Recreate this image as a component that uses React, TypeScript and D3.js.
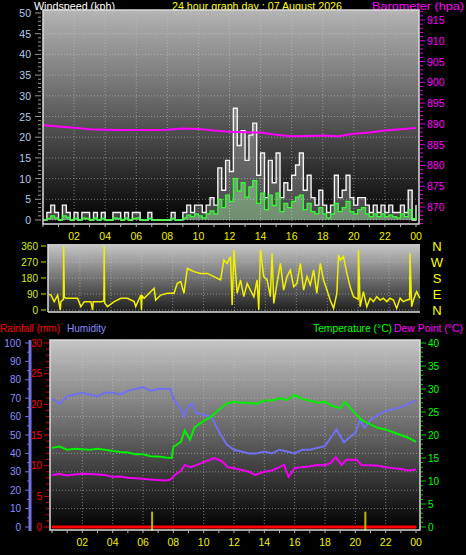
import React from "react";
import * as d3 from "d3";

// ---------- DATA ----------
const HOUR_LABELS = ["02", "04", "06", "08", "10", "12", "14", "16", "18", "20", "22", "00"];
const LABEL_HOURS = [2, 4, 6, 8, 10, 12, 14, 16, 18, 20, 22, 24];

// wind (kph), every 15 minutes from 00:00 to 24:00
const windTimes = d3.range(0, 24.001, 0.25);
const gustValues = [
  0, 1.8, 3.6, 1.8, 0, 3.6, 1.8, 0, 1.8, 0, 1.8, 1.8, 0, 1.8, 0, 1.8,
  0, 0, 1.8, 1.8, 0, 1.8, 0, 1.8, 1.8, 0, 0, 1.8, 0, 0, 0, 0,
  0, 1.8, 0, 0, 1.8, 3.6, 1.8, 3.6, 3.6, 1.8, 3.6, 5.4, 3.6, 12.6, 7.2, 14.4,
  11.7, 27, 18, 21.6, 14.4, 20.5, 23.4, 10.8, 16.2, 5.4, 14.4, 9, 16.2, 5.4, 9, 7.2,
  10.8, 13.3, 16.2, 7.2, 10.8, 5.4, 3.6, 7.2, 3.6, 1.8, 3.6, 10.8, 5.4, 7.2, 10.8, 5.4,
  3.6, 5.4, 5.4, 3.6, 1.8, 3.6, 1.8, 3.6, 1.8, 3.6, 1.8, 1.8, 3.6, 1.8, 7.2, 0, 3.6,
];
const avgValues = [
  0, 0.4, 1.0, 0.5, 0, 1.0, 0.6, 0, 0.4, 0, 0.5, 0.4, 0, 0.5, 0, 0.4,
  0, 0, 0.5, 0.4, 0, 0.5, 0, 0.4, 0.5, 0, 0, 0.4, 0, 0, 0, 0,
  0, 0.4, 0, 0, 0.5, 1.2, 0.8, 1.5, 1.0, 0.5, 1.5, 2.2, 1.5, 5, 3, 6,
  4.5, 10, 7, 9, 5.5, 8, 9.5, 4, 6.5, 2.5, 6, 3.5, 6.5, 2, 4, 3,
  4.5, 5.5, 6, 2.5, 4, 2, 1.5, 3, 1.5, 0.5, 1.5, 4, 2, 3, 4.5, 2,
  1.5, 2.5, 3, 1.5, 0.8, 1.5, 0.8, 1.5, 0.8, 1.2, 0.8, 0.5, 1.5, 0.8, 2.5, 0.3, 1.2,
];

// barometer (hPa), hourly
const baroTimes = d3.range(0, 24.001, 1);
const baroValues = [
  889.7, 889.4, 889.1, 888.7, 888.6, 888.5, 888.5, 888.5, 888.6, 888.9, 888.8, 888.4, 888.1,
  888.0, 887.9, 887.4, 887.0, 887.1, 887.2, 887.0, 887.6, 887.9, 888.4, 888.7, 889.0,
];

// wind direction (degrees)
const dirTimes = [
  0, 0.13, 0.34, 0.56, 0.73, 0.77, 0.93, 0.95, 0.99, 1.10, 1.85, 2.06, 2.28, 2.71, 2.82, 2.86, 3.35, 3.55, 3.57, 3.60,
  3.78, 4.22, 4.65, 5.08, 5.51, 5.61, 5.94, 5.98, 6.02, 6.15, 6.80, 6.90, 7.23, 7.66, 8.09, 8.30, 8.52, 8.73, 8.95, 9.16,
  9.38, 9.81, 10.24, 10.67, 11.10, 11.31, 11.53, 11.74, 11.85, 11.96, 12.17, 12.39, 12.60, 12.82, 13.03, 13.25, 13.46, 13.57, 13.68, 13.89,
  14.11, 14.32, 14.43, 14.54, 14.75, 14.97, 15.18, 15.40, 15.61, 15.83, 16.04, 16.26, 16.47, 16.69, 16.90, 17.12, 17.33, 17.55, 17.76, 17.98,
  18.19, 18.41, 18.62, 18.73, 18.84, 19.05, 19.27, 19.48, 19.70, 20.00, 20.02, 20.13, 20.34, 20.56, 20.77, 20.99, 21.20, 21.42, 21.63, 21.85,
  22.06, 22.28, 22.49, 22.71, 22.92, 23.14, 23.33, 23.35, 23.46, 23.57, 23.78, 24.0,
];
const dirValues = [
  88, 84, 47, 84, 0, 47, 60, 360, 70, 66, 66, 19, 47, 47, 0, 47, 47, 50, 360, 40,
  19, 47, 66, 66, 47, 19, 84, 0, 80, 66, 122, 56, 84, 94, 94, 150, 160, 94, 234, 225,
  216, 206, 206, 188, 169, 281, 262, 300, 28, 338, 94, 169, 75, 150, 112, 75, 169, 0, 338, 188,
  169, 75, 319, 37, 150, 262, 112, 188, 225, 131, 150, 262, 112, 188, 141, 225, 94, 262, 169, 112,
  56, 9, 94, 309, 281, 300, 206, 131, 75, 60, 338, 19, 103, 19, 66, 47, 75, 56, 66, 47,
  66, 56, 9, 66, 47, 56, 60, 319, 19, 56, 103, 66,
];

// humidity (%)
const humTimes = [
  0, 0.5, 1, 1.5, 2, 2.5, 3, 3.5, 4, 4.5, 5, 5.5, 6, 6.5, 7, 7.5, 7.8, 8, 8.5, 8.75, 9, 9.25, 9.5, 10, 10.5,
  11, 11.5, 12, 12.5, 13, 13.5, 14, 14.5, 15, 15.5, 16, 16.5, 17, 17.5, 18, 18.5, 18.75, 19.25, 19.5, 20, 20.3,
  20.6, 21, 21.5, 22, 22.5, 23, 23.5, 24,
];
const humValues = [
  70, 67, 71, 72, 73, 72, 71, 73, 73, 72, 74, 75, 76, 74, 75, 75, 75, 70, 64, 60, 66, 67, 62, 61, 60,
  52, 45, 42, 41, 40, 40, 41, 40, 42, 41, 40, 42, 42, 43, 44, 50, 53, 46, 48, 51, 58,
  54, 58, 61, 63, 64, 65, 67, 69,
];

// temperature (°C)
const tempTimes = [
  0, 0.5, 1, 1.5, 2, 2.5, 3, 3.5, 4, 4.5, 5, 5.5, 6, 6.5, 7, 7.5, 7.9, 8.0, 8.5, 8.75, 9.1, 9.4, 10, 10.5, 11,
  11.5, 12, 12.5, 13, 13.5, 14, 14.5, 15, 15.5, 16, 16.5, 17, 17.5, 18, 18.5, 19, 19.3, 19.8, 20.4, 21, 21.5,
  22, 22.5, 23, 23.5, 24,
];
const tempValues = [
  17.2, 17.5, 16.8, 17.0, 16.9, 16.8, 17.0, 16.8, 16.5, 16.3, 16.2, 15.8, 15.8, 15.4, 15.3, 15.1, 15.0, 17.4, 18.5, 21, 19, 21.7, 23, 24, 25.5,
  26.8, 27.2, 27.0, 27.0, 26.8, 27.5, 27.5, 28, 27.6, 28.7, 27.8, 27.5, 27, 27.2, 26.3, 25.8, 27.2, 25.4, 23.3, 22.3, 21.5,
  21.2, 20.6, 20.0, 19.4, 18.5,
];

// dew point (°C)
const dewTimes = [
  0, 0.5, 1, 1.5, 2, 2.5, 3, 3.5, 4, 4.5, 5, 5.5, 6, 6.5, 7, 7.5, 7.8, 8.1, 8.5, 8.75, 9.1, 9.4, 10, 10.7, 11.2,
  11.6, 12, 12.5, 13, 13.4, 14, 14.5, 15, 15.3, 15.6, 16, 16.5, 17, 17.5, 18, 18.4, 18.7, 19.1, 19.4, 20.1, 20.4,
  21, 21.5, 22, 22.5, 23, 23.5, 24,
];
const dewValues = [
  11.3, 11.5, 11.2, 11.4, 11.6, 11.5, 11.4, 11.3, 10.9, 11.0, 10.7, 10.6, 10.5, 10.3, 10.2, 10.1, 10.3, 11.3, 12.2, 13.5, 13, 13.3, 14.1, 15, 14.3,
  13, 12.8, 12.4, 12, 11.3, 12, 12.3, 13, 13.5, 10.9, 12.8, 13, 13.2, 13.5, 13.4, 14, 15.2, 13.5, 14.6, 14.6, 13.5,
  13.4, 13.3, 13, 12.8, 12.6, 12.3, 12.5,
];

// rainfall (mm)
const rainTimes = [0, 24];
const rainValues = [0, 0];
const rainMarkTimes = [6.6, 20.66];
const rainMarkValues = [2.5, 2.5];

const WIND_TICKS = [0, 5, 10, 15, 20, 25, 30, 35, 40, 45, 50];
const BARO_TICKS = [870, 875, 880, 885, 890, 895, 900, 905, 910, 915];
const DIR_TICKS = [0, 90, 180, 270, 360];
const COMPASS = ["N", "W", "S", "E", "N"];
const COMPASS_DEG = [360, 270, 180, 90, 0];
const HUM_TICKS = [0, 10, 20, 30, 40, 50, 60, 70, 80, 90, 100];
const RAIN_TICKS = [0, 5, 10, 15, 20, 25, 30];
const TEMP_TICKS = [0, 5, 10, 15, 20, 25, 30, 35, 40];

const FONT = "'Liberation Sans', Arial, sans-serif";

function Grad({ id, top, bottom }: { id: string; top: string; bottom: string }) {
  return (
    <linearGradient id={id} x1="0" y1="0" x2="0" y2="1">
      <stop offset="0" stopColor={top} />
      <stop offset="1" stopColor={bottom} />
    </linearGradient>
  );
}

function Fit({ x, y, w, fill, size, children }: { x: number; y: number; w: number; fill: string; size: number; children: string }) {
  return (
    <text x={x} y={y} fill={fill} fontSize={size} textLength={w} lengthAdjust="spacingAndGlyphs">
      {children}
    </text>
  );
}

export default function App() {
  // ---- scales ----
  const xTop = d3.scaleLinear().domain([0, 24]).range([43, 416]);
  const yWind = d3.scaleLinear().domain([0, 50]).range([220, 13]);
  const yBaro = d3.scaleLinear().domain([870, 915]).range([207, 20]);

  const xDir = d3.scaleLinear().domain([0, 24]).range([49, 420]);
  const yDir = d3.scaleLinear().domain([0, 360]).range([310, 246]);

  const xBot = d3.scaleLinear().domain([0, 24]).range([52, 416]);
  const yHum = d3.scaleLinear().domain([0, 100]).range([527, 343]);
  const yRain = d3.scaleLinear().domain([0, 30]).range([527, 343]);
  const yTemp = d3.scaleLinear().domain([0, 40]).range([527, 343]);

  const windIdx = windTimes.map((_, i) => i);
  const gustArea = d3.area<number>().x((i) => xTop(windTimes[i])).y0(yWind(0)).y1((i) => yWind(gustValues[i])).curve(d3.curveStepAfter);
  const gustLine = d3.line<number>().x((i) => xTop(windTimes[i])).y((i) => yWind(gustValues[i])).curve(d3.curveStepAfter);
  const avgArea = d3.area<number>().x((i) => xTop(windTimes[i])).y0(yWind(0)).y1((i) => yWind(avgValues[i])).curve(d3.curveStepAfter);
  const avgLine = d3.line<number>().x((i) => xTop(windTimes[i])).y((i) => yWind(avgValues[i])).curve(d3.curveStepAfter);
  const baroLine = d3.line<number>().x((i) => xTop(baroTimes[i])).y((i) => yBaro(baroValues[i]));

  const dirLine = d3.line<number>().x((i) => xDir(dirTimes[i])).y((i) => yDir(dirValues[i]));
  const humLine = d3.line<number>().x((i) => xBot(humTimes[i])).y((i) => yHum(humValues[i]));
  const tempLine = d3.line<number>().x((i) => xBot(tempTimes[i])).y((i) => yTemp(tempValues[i]));
  const dewLine = d3.line<number>().x((i) => xBot(dewTimes[i])).y((i) => yTemp(dewValues[i]));
  const rainLine = d3.line<number>().x((i) => xBot(rainTimes[i])).y((i) => yRain(rainValues[i]));

  const idx = (a: number[]) => a.map((_, i) => i);

  const gridStyle = { stroke: "#c8c8c8", strokeOpacity: 0.55, strokeWidth: 1, strokeDasharray: "1,2" };

  const top = { x0: 43, x1: 419, y0: 10, y1: 224 };
  const dir = { x0: 48, x1: 420, y0: 244, y1: 312 };
  const bot = { x0: 50, x1: 420, y0: 340, y1: 530 };

  const minorWind = d3.range(0, 51, 1);
  const minorBaro = d3.range(866, 918, 1);
  const minorRain = d3.range(0, 31, 1);
  const minorTemp = d3.range(0, 41, 1);
  const minorHum = d3.range(0, 101, 5);
  const hourTicks = d3.range(0, 25, 1);

  return (
    <svg width={466} height={555} style={{ position: "absolute", left: 0, top: 0, background: "#000" }} fontFamily={FONT}>
      <defs>
        <Grad id="gTop" top="#b4b4b4" bottom="#000000" />
        <Grad id="gDir" top="#c8c8c8" bottom="#1c1c1c" />
        <Grad id="gBot" top="#c4c4c4" bottom="#000000" />
      </defs>
      <rect x={0} y={0} width={466} height={555} fill="#000" />

      {/* ===== TOP PANEL ===== */}
      <Fit x={34} y={10} w={81} size={11.5} fill="#ffffff">Windspeed (kph)</Fit>
      <Fit x={172} y={10} w={170} size={11.5} fill="#ffff00">24 hour graph day : 07 August 2026</Fit>
      <Fit x={372} y={10} w={92} size={11.5} fill="#ff00ff">Barometer (hpa)</Fit>

      <rect x={top.x0} y={top.y0} width={top.x1 - top.x0} height={top.y1 - top.y0} fill="url(#gTop)" />
      {WIND_TICKS.map((v) => (
        <line key={"wg" + v} x1={top.x0} x2={top.x1} y1={yWind(v)} y2={yWind(v)} {...gridStyle} />
      ))}
      {LABEL_HOURS.slice(0, 11).map((h) => (
        <line key={"vg" + h} x1={xTop(h)} x2={xTop(h)} y1={top.y0} y2={top.y1} {...gridStyle} />
      ))}
      <path d={gustArea(windIdx) || ""} fill="#ffffff" fillOpacity={0.25} />
      <path d={gustLine(windIdx) || ""} fill="none" stroke="#f4f4f4" strokeWidth={1.4} />
      <path d={avgArea(windIdx) || ""} fill="#b8ffb8" fillOpacity={0.4} />
      <path d={avgLine(windIdx) || ""} fill="none" stroke="#30ff30" strokeWidth={1.3} />
      <path d={baroLine(idx(baroTimes)) || ""} fill="none" stroke="#ff00ff" strokeWidth={2} />
      <rect x={top.x0} y={top.y0} width={top.x1 - top.x0} height={top.y1 - top.y0} fill="none" stroke="#dcdcdc" strokeWidth={1.5} />

      {/* left wind axis */}
      {minorWind.map((v) => (
        <line key={"wm" + v} x1={v % 5 === 0 ? 35 : 38} x2={41} y1={yWind(v)} y2={yWind(v)} stroke="#9a9a9a" strokeWidth={1} />
      ))}
      {WIND_TICKS.map((v) => (
        <text key={"wl" + v} x={31} y={yWind(v) + 4} fill="#b0cdf0" fontSize={10.5} textAnchor="end">{v}</text>
      ))}
      {/* right baro axis */}
      {minorBaro.map((v) => (
        <line key={"bm" + v} x1={420} x2={v % 5 === 0 ? 425 : 423} y1={yBaro(v)} y2={yBaro(v)} stroke="#e000e0" strokeWidth={1} />
      ))}
      {BARO_TICKS.map((v) => (
        <text key={"bl" + v} x={427} y={yBaro(v) + 4} fill="#ff00ff" fontSize={10.5}>{v}</text>
      ))}
      {/* x axis top */}
      {hourTicks.map((h) => (
        <line key={"xt" + h} x1={xTop(h)} x2={xTop(h)} y1={top.y1} y2={top.y1 + 3} stroke="#bbbbbb" />
      ))}
      {LABEL_HOURS.map((h, i) => (
        <text key={"xl" + h} x={xTop(h)} y={240} fill="#f0f000" fontSize={10.5} textAnchor="middle">{HOUR_LABELS[i]}</text>
      ))}

      {/* ===== WIND DIRECTION PANEL ===== */}
      <rect x={dir.x0} y={dir.y0} width={dir.x1 - dir.x0} height={dir.y1 - dir.y0} fill="url(#gDir)" />
      {DIR_TICKS.map((v) => (
        <line key={"dg" + v} x1={dir.x0} x2={dir.x1} y1={yDir(v)} y2={yDir(v)} {...gridStyle} />
      ))}
      {LABEL_HOURS.slice(0, 11).map((h) => (
        <line key={"dvg" + h} x1={xDir(h)} x2={xDir(h)} y1={dir.y0} y2={dir.y1} {...gridStyle} />
      ))}
      <path d={dirLine(idx(dirTimes)) || ""} fill="none" stroke="#f0f000" strokeWidth={1.5} />
      <line x1={dir.x0} x2={dir.x1} y1={dir.y1} y2={dir.y1} stroke="#dcdcdc" strokeWidth={1.5} />
      <line x1={dir.x0} x2={dir.x0} y1={dir.y0} y2={dir.y1} stroke="#dcdcdc" strokeWidth={1.5} />
      {DIR_TICKS.map((v) => (
        <g key={"dl" + v}>
          <line x1={41} x2={46} y1={yDir(v)} y2={yDir(v)} stroke="#d0e000" />
          <text x={38} y={yDir(v) + 3.5} fill="#d8f000" fontSize={10} textAnchor="end">{v}</text>
        </g>
      ))}
      {COMPASS.map((c, i) => (
        <text key={"c" + i} x={437} y={yDir(COMPASS_DEG[i]) + 5} fill="#ffff00" fontSize={13} textAnchor="middle">{c}</text>
      ))}

      {/* ===== BOTTOM PANEL ===== */}
      <Fit x={0} y={332} w={60} size={11} fill="#ff0000">Rainfall (mm)</Fit>
      <Fit x={67} y={332} w={39} size={11} fill="#8c8cff">Humidity</Fit>
      <Fit x={313} y={332} w={79} size={11} fill="#00ff00">Temperature (°C)</Fit>
      <Fit x={394} y={332} w={69} size={11} fill="#ff00ff">Dew Point (°C)</Fit>

      <rect x={bot.x0} y={bot.y0} width={bot.x1 - bot.x0} height={bot.y1 - bot.y0} fill="url(#gBot)" />
      {HUM_TICKS.map((v) => (
        <line key={"hg" + v} x1={bot.x0} x2={bot.x1} y1={yHum(v)} y2={yHum(v)} {...gridStyle} />
      ))}
      {LABEL_HOURS.slice(0, 11).map((h) => (
        <line key={"bvg" + h} x1={xBot(h)} x2={xBot(h)} y1={bot.y0} y2={bot.y1} {...gridStyle} />
      ))}
      <path d={humLine(idx(humTimes)) || ""} fill="none" stroke="#7070f0" strokeWidth={2} />
      <path d={tempLine(idx(tempTimes)) || ""} fill="none" stroke="#00f000" strokeWidth={2} />
      <path d={dewLine(idx(dewTimes)) || ""} fill="none" stroke="#f000f0" strokeWidth={2} />
      <path d={rainLine(idx(rainTimes)) || ""} fill="none" stroke="#ff0000" strokeWidth={3} />
      {rainMarkTimes.map((t, i) => (
        <line key={"rm" + i} x1={xBot(t)} x2={xBot(t)} y1={yRain(rainMarkValues[i])} y2={bot.y1 + 1} stroke="#b8b800" strokeWidth={2} />
      ))}
      <rect x={bot.x0} y={bot.y0} width={bot.x1 - bot.x0} height={bot.y1 - bot.y0} fill="none" stroke="#dcdcdc" strokeWidth={1.5} />

      {/* humidity axis */}
      <line x1={30} x2={30} y1={340} y2={531} stroke="#7272e8" strokeWidth={3} />
      {minorHum.map((v) => (
        <line key={"hm" + v} x1={v % 10 === 0 ? 25 : 27} x2={29} y1={yHum(v)} y2={yHum(v)} stroke="#7272e8" />
      ))}
      {HUM_TICKS.map((v) => (
        <text key={"hl" + v} x={21} y={yHum(v) + 3.5} fill="#8c8cff" fontSize={10} textAnchor="end">{v}</text>
      ))}
      {/* rain axis */}
      {minorRain.map((v) => (
        <line key={"rmn" + v} x1={v % 5 === 0 ? 44 : 46} x2={49} y1={yRain(v)} y2={yRain(v)} stroke="#e00000" />
      ))}
      {RAIN_TICKS.map((v) => (
        <text key={"rl" + v} x={42} y={yRain(v) + 3.5} fill="#ff0000" fontSize={10} textAnchor="end">{v}</text>
      ))}
      {/* temp axis */}
      {minorTemp.map((v) => (
        <line key={"tm" + v} x1={421} x2={v % 5 === 0 ? 426 : 423} y1={yTemp(v)} y2={yTemp(v)} stroke="#00d000" />
      ))}
      {TEMP_TICKS.map((v) => (
        <text key={"tl" + v} x={428} y={yTemp(v) + 3.5} fill="#00ff00" fontSize={10}>{v}</text>
      ))}
      {/* x axis bottom */}
      {hourTicks.map((h) => (
        <line key={"bxt" + h} x1={xBot(h)} x2={xBot(h)} y1={bot.y1} y2={bot.y1 + 3} stroke="#bbbbbb" />
      ))}
      {LABEL_HOURS.map((h, i) => (
        <text key={"bxl" + h} x={xBot(h)} y={546} fill="#f0f000" fontSize={10.5} textAnchor="middle">{HOUR_LABELS[i]}</text>
      ))}
    </svg>
  );
}
